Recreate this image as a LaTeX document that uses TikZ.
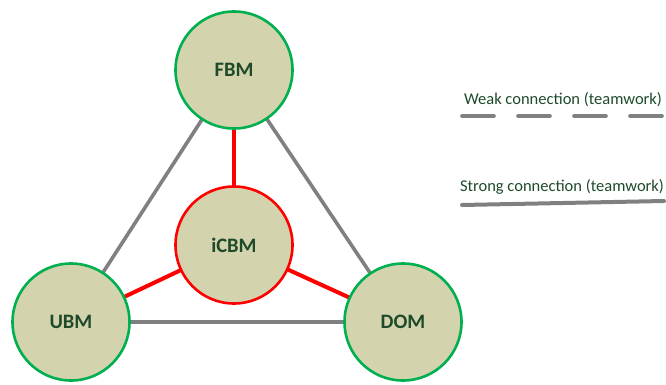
\documentclass[tikz,border=0pt]{standalone}
\usepackage{fontspec}
\setmainfont{Carlito}
\usetikzlibrary{backgrounds}
\definecolor{nodefill}{HTML}{D3D3AE}
\definecolor{nodeedge}{HTML}{00B050}
\definecolor{strongred}{HTML}{FF0000}
\definecolor{linkgray}{HTML}{808080}
\definecolor{labelgreen}{HTML}{1E4A2A}
\begin{document}
\begin{tikzpicture}[x=1pt,y=-1pt,
  bm/.style={circle, draw=nodeedge, line width=2.6pt, fill=nodefill,
    minimum size=117pt, inner sep=0pt, font=\bfseries\fontsize{20.5}{24}\selectfont,
    text=labelgreen},
  core/.style={bm, draw=strongred},
  weak/.style={draw=linkgray, line width=3.6pt},
  strong/.style={draw=strongred, line width=4pt},
  legendtext/.style={font=\fontsize{16.5}{19}\selectfont, text=labelgreen, inner sep=0pt}]
\useasboundingbox (0,0) rectangle (666,385);
% the four units
\node[bm] (fbm) at (234,70) {FBM};
\node[bm] (ubm) at (71,322) {UBM};
\node[bm] (dom) at (403,322) {DOM};
\node[core] (icbm) at (234,245) {iCBM};
\begin{scope}[on background layer]
  % team links between the outer units
  \draw[weak] (fbm.center) -- (ubm.center);
  \draw[weak] (fbm.center) -- (dom.center);
  \draw[weak] (ubm.center) -- (dom.center);
  % links to the central unit
  \draw[strong] (icbm.center) -- (fbm.center);
  \draw[strong] (icbm.center) -- (ubm.center);
  \draw[strong] (icbm.center) -- (dom.center);
\end{scope}
% legend
\node[legendtext, anchor=base] (weaklbl) at (563,105) {Weak connection (teamwork)};
\coordinate (w1) at (462,116);
\coordinate (w2) at (664,116);
\draw[draw=linkgray, line width=3.6pt, line cap=round, dash pattern=on 32pt off 24pt] (w1) -- (w2);
\node[legendtext, anchor=base] (stronglbl) at (562,191) {Strong connection (teamwork)};
\coordinate (s1) at (462,205);
\coordinate (s2) at (664,201);
\draw[draw=linkgray, line width=4pt, line cap=round] (s1) -- (s2);
\end{tikzpicture}
\end{document}
